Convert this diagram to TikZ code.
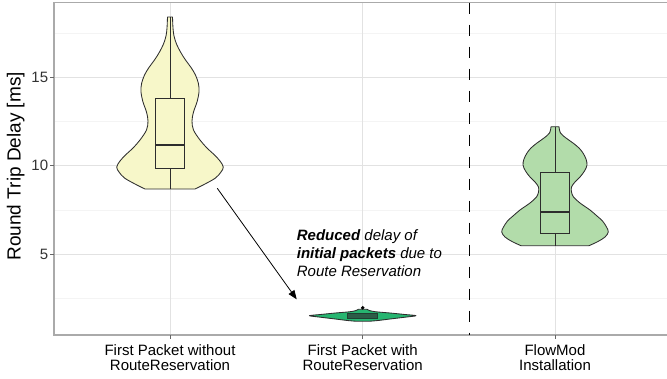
\documentclass[tikz,border=0pt]{standalone}
\usepackage{fontspec}
\setmainfont{Liberation Sans}
\usetikzlibrary{arrows.meta}

\definecolor{violinA}{RGB}{247,247,201}
\definecolor{violinB}{RGB}{38,181,112}
\definecolor{violinC}{RGB}{178,220,170}
\definecolor{boxB}{RGB}{44,92,71}
\definecolor{outline}{RGB}{45,45,45}
\definecolor{gridmajor}{RGB}{226,226,226}
\definecolor{gridminor}{RGB}{244,244,244}
\definecolor{frame}{RGB}{170,170,170}

\tikzset{
  gridmaj/.style={draw=gridmajor, line width=0.9pt},
  gridmin/.style={draw=gridminor, line width=0.6pt},
  axisline/.style={draw=frame, line width=1.1pt},
  tickmark/.style={draw=frame!60!black, line width=0.8pt},
  violinshape/.style={draw=outline, line width=0.85pt, line join=round},
  boxplot/.style={draw=outline, line width=0.9pt},
  medianline/.style={draw=outline, line width=2pt},
  whisker/.style={draw=outline, line width=0.85pt},
  ticklabel/.style={inner sep=0pt, font=\fontsize{15}{15}\selectfont, text=black!80},
  catlabel/.style={inner sep=0pt, align=center, font=\fontsize{15}{15}\selectfont},
  axistitle/.style={inner sep=0pt, font=\fontsize{19}{19}\selectfont},
  note/.style={inner sep=0pt, align=left, font=\fontsize{15}{18}\selectfont\itshape},
  separator/.style={draw=black, line width=0.8pt, dash pattern=on 11pt off 11pt},
  pointer/.style={draw=black, line width=0.8pt, -{Triangle[length=9pt,width=7pt]}}
}

\begin{document}
\begin{tikzpicture}[x=1pt, y=-1pt]
\useasboundingbox (0,0) rectangle (667,378);

% panel grid
\foreach \gy in {33.2,121.5,209.8,298}
  \draw[gridmin] (54,\gy) -- (667,\gy);
\foreach \gy in {77.3,165.7,254}
  \draw[gridmaj] (54,\gy) -- (667,\gy);
\foreach \gx in {170,362.7,555}
  \draw[gridmaj] (\gx,2.7) -- (\gx,335);

% panel frame
\draw[axisline] (667,2.7) -- (54,2.7) -- (54,335) -- (667,335);

% y axis ticks and labels
\foreach \gy/\lab in {77.3/15,165.7/10,254/5} {
  \draw[tickmark] (50,\gy) -- (54,\gy);
  \node[ticklabel, anchor=east] at (48.3,\gy) {\lab};
}
\foreach \gx in {170,362.7,555}
  \draw[tickmark] (\gx,335) -- (\gx,339);

\node[axistitle, rotate=90, anchor=base] (ytitle) at (20.7,166.3) {Round Trip Delay [ms]};

% category labels
\node[catlabel, anchor=north] (catA) at (170,344.3) {First Packet without\\RouteReservation};
\node[catlabel, anchor=north] (catB) at (362.7,344.3) {First Packet with\\RouteReservation};
\node[catlabel, anchor=north] (catC) at (555,344.3) {FlowMod\\Installation};

% separator between route measurements and flow installation
\draw[separator] (469.3,2.7) -- (469.3,335);

% violin: first packet without route reservation
\filldraw[violinshape, fill=violinA]
  plot[smooth, tension=0.55] coordinates {(172.5,17) (173,28) (174,36) (176.5,44) (180.5,52) (185.5,60) (190.7,67) (195.5,75) (198.5,84) (199,92) (197,102) (193.5,112) (192,121) (193.5,130) (200,140) (207,148) (214.5,155) (220,161) (223.3,167) (221,172) (215.5,178) (205,184) (195,189)}
  -- plot[smooth, tension=0.55] coordinates {(145,189) (135,184) (124.5,178) (119,172) (116.7,167) (120,161) (125.5,155) (133,148) (140,140) (146.5,130) (148,121) (146.5,112) (143,102) (141,92) (141.5,84) (144.5,75) (149.3,67) (154.5,60) (159.5,52) (163.5,44) (166,36) (167,28) (167.5,17)}
  -- cycle;
\draw[whisker] (170,17) -- (170,189);
\filldraw[boxplot, fill=violinA] (155,98.3) rectangle (184.3,168.3);
\draw[medianline] (155,145.3) -- (184.3,145.3);

% violin: first packet with route reservation
\filldraw[violinshape, fill=violinB]
  plot[smooth, tension=0.5] coordinates {(367,309.3) (370,310.7) (376,311.8) (390,313) (405,314.5) (416,315.7) (405,317.2) (390,319) (378,320.5) (370,321.2)}
  -- plot[smooth, tension=0.5] coordinates {(355.4,321.2) (347.4,320.5) (335.4,319) (320.4,317.2) (309.4,315.7) (320.4,314.5) (335.4,313) (349.4,311.8) (355.4,310.7) (358.4,309.3)}
  -- cycle;
\filldraw[boxplot, fill=boxB, draw=boxB!70!black] (347.7,313.5) rectangle (377.3,318.3);
\fill[black] (362.7,307.8) circle (1.9pt);

% violin: flow rule installation
\filldraw[violinshape, fill=violinC]
  plot[smooth, tension=0.55] coordinates {(559,126.7) (560.5,133) (566,138) (573,143) (579,148) (583,153) (586,159) (587,165) (584.5,171) (580,177) (575,182) (571.5,187) (571.5,192) (573.5,197) (580,203) (590,210) (597,216) (602.5,221) (606.5,227) (608.3,232) (605,237) (598,241.5) (589,245.7)}
  -- plot[smooth, tension=0.55] coordinates {(521,245.7) (512,241.5) (505,237) (501.7,232) (503.5,227) (507.5,221) (513,216) (520,210) (530,203) (536.5,197) (538.5,192) (538.5,187) (535,182) (530,177) (525.5,171) (523,165) (524,159) (527,153) (531,148) (537,143) (544,138) (549.5,133) (551,126.7)}
  -- cycle;
\draw[whisker] (555,126.7) -- (555,245.7);
\filldraw[boxplot, fill=violinC] (540.7,172.3) rectangle (569.3,233.3);
\draw[medianline] (540.7,212.3) -- (569.3,212.3);

% annotation
\node[note, anchor=north west] (remark) at (296.7,229) {\textbf{Reduced} delay of\\\textbf{initial packets} due to\\Route Reservation};
\coordinate (arrowfrom) at (217.3,188.3);
\coordinate (arrowto) at (296.7,299.3);
\draw[pointer] (arrowfrom) -- (arrowto);
\end{tikzpicture}
\end{document}
